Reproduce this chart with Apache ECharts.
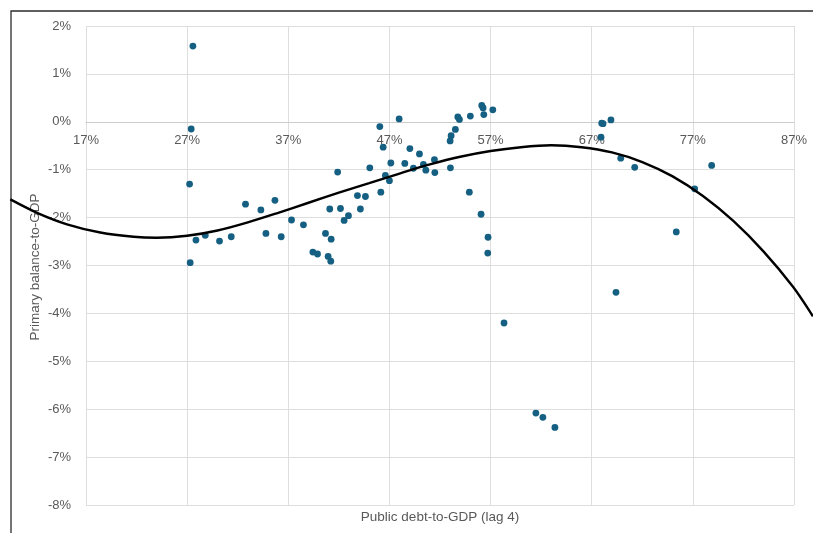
<!DOCTYPE html>
<html>
<head>
<meta charset="utf-8">
<style>
  html, body { margin: 0; padding: 0; background: #ffffff; }
  #chart { width: 813px; height: 533px; }
</style>
<script src="https://cdn.jsdelivr.net/npm/echarts@6/dist/echarts.min.js"></script>
</head>
<body>
<div id="chart"></div>
<script>
// Public debt-to-GDP (lag 4), in percent
const debtRatio = [
  27.57, 27.40, 27.24, 27.30, 27.87, 28.79, 30.20, 31.36, 32.77, 34.29,
  34.79, 35.68, 36.30, 37.32, 38.50, 39.43, 39.89, 40.68, 41.24, 40.94,
  41.20, 41.10, 41.88, 42.16, 42.52, 42.95, 44.13, 43.84, 44.63, 46.15,
  47.00, 45.06, 46.05, 47.96, 46.38, 47.14, 46.60, 48.52, 49.02, 49.97,
  49.37, 50.36, 50.60, 51.45, 51.49, 53.03, 53.00, 53.10, 53.52, 53.76,
  53.92, 55.00, 56.13, 56.26, 56.33, 57.22, 54.90, 56.06, 56.75, 56.72,
  58.33, 61.48, 62.17, 63.36, 67.99, 68.12, 68.90, 67.92, 69.87, 71.25,
  77.18, 78.86, 75.36, 69.40
];

// Primary balance-to-GDP, in percent
const primaryBalance = [
   1.58, -0.15, -1.30, -2.94, -2.47, -2.37, -2.49, -2.40, -1.72, -1.84,
  -2.33, -1.64, -2.40, -2.05, -2.15, -2.72, -2.76, -2.33, -2.45, -2.81,
  -2.91, -1.82, -1.05, -1.81, -2.06, -1.96, -1.82, -1.54, -1.56, -1.47,
  -1.23, -0.96, -0.10,  0.06, -0.53, -0.86, -1.12, -0.87, -0.56, -0.67,
  -0.97, -0.89, -1.01, -0.79, -1.06, -0.96, -0.40, -0.29, -0.16,  0.10,
   0.05,  0.12,  0.34,  0.29,  0.15,  0.25, -1.47, -1.93, -2.41, -2.74,
  -4.20, -6.08, -6.17, -6.38, -0.03, -0.04,  0.04, -0.32, -0.76, -0.95,
  -1.40, -0.91, -2.30, -3.56
];

// Polynomial trend line, sampled along debt ratio (runs past both ends of the axis)
const trendDebt    = [ 9.52, 12.16, 15.12, 18.41, 21.70, 24.00, 27.00, 30.00, 33.00, 36.00,
                      39.00, 42.00, 45.00, 48.00, 51.00, 54.00, 57.00, 60.00, 63.00, 66.00,
                      69.00, 72.00, 75.00, 78.00, 81.00, 84.00, 86.92, 88.87];
const trendBalance = [-1.62, -1.90, -2.14, -2.31, -2.40, -2.42, -2.38, -2.27, -2.10, -1.90,
                      -1.69, -1.48, -1.28, -1.08, -0.89, -0.73, -0.61, -0.53, -0.49, -0.53,
                      -0.64, -0.84, -1.14, -1.55, -2.07, -2.71, -3.45, -4.06];

// Axis ranges and tick steps (percent)
const xTicks = { min: 17, max: 87, step: 10 };
const yTicks = { min: -8, max: 2, step: 1 };

const xTitle = 'Public debt-to-GDP (lag 4)';
const yTitle = 'Primary balance-to-GDP';

const scatterData = debtRatio.map((d, i) => [d, primaryBalance[i]]);
const trendData = trendDebt.map((d, i) => [d, trendBalance[i]]);

// Plot-area layout (px)
const W = 813, H = 533;
const plot = { left: 86, right: 19, top: 26, bottom: 28 };
const plotW = W - plot.left - plot.right;
const plotH = H - plot.top - plot.bottom;
// where the horizontal axis crosses the vertical one (y = 0)
const zeroFromBottom = plotH * (0 - yTicks.min) / (yTicks.max - yTicks.min);

// The trend line is allowed to run out to the chart frame on the left and
// to the window edge on the right, so it gets a wider, hidden x scale.
const frameLeft = 10;
const unitsPerPx = (xTicks.max - xTicks.min) / plotW;
const trendXMin = xTicks.min - (plot.left - frameLeft) * unitsPerPx;
const trendXMax = xTicks.max + plot.right * unitsPerPx;

const chart = echarts.init(document.getElementById('chart'), null, { renderer: 'canvas' });

const labelFont = { color: '#595959', fontSize: 13, fontFamily: 'Liberation Sans, Arial, sans-serif' };
const titleFont = '13.5px "Liberation Sans", Arial, sans-serif';

chart.setOption({
  animation: false,
  backgroundColor: '#ffffff',
  grid: [
    { left: plot.left, right: plot.right, top: plot.top, bottom: plot.bottom, containLabel: false },
    { left: frameLeft, right: 0, top: plot.top, bottom: plot.bottom, containLabel: false }
  ],
  xAxis: [
    {
      type: 'value', gridIndex: 0,
      min: xTicks.min, max: xTicks.max, interval: xTicks.step,
      position: 'bottom',
      offset: -zeroFromBottom,
      axisLine: { show: true, onZero: false, lineStyle: { color: '#cccccc', width: 1 } },
      axisTick: { show: false },
      axisLabel: Object.assign({ margin: 12, formatter: v => v + '%' }, labelFont),
      splitLine: { show: true, lineStyle: { color: '#dedede', width: 1 } }
    },
    {
      type: 'value', gridIndex: 1, show: false,
      min: trendXMin, max: trendXMax
    }
  ],
  yAxis: [
    {
      type: 'value', gridIndex: 0,
      min: yTicks.min, max: yTicks.max, interval: yTicks.step,
      axisLine: { show: false },
      axisTick: { show: false },
      axisLabel: Object.assign({ margin: 15, formatter: v => v + '%' }, labelFont),
      splitLine: { show: true, lineStyle: { color: '#dedede', width: 1 } }
    },
    {
      type: 'value', gridIndex: 1, show: false,
      min: yTicks.min, max: yTicks.max
    }
  ],
  graphic: [
    {
      type: 'rect', z: -1, silent: true,
      shape: { x: 11, y: 11, width: 900, height: 600 },
      style: { fill: null, stroke: '#2b2b2b', lineWidth: 1.3 }
    },
    {
      type: 'text', z: 0, silent: true,
      x: 440, y: 517,
      style: { text: xTitle, align: 'center', verticalAlign: 'middle',
        fill: '#595959', font: titleFont }
    },
    {
      type: 'text', z: 0, silent: true,
      x: 35, y: 267, rotation: Math.PI / 2,
      style: { text: yTitle, align: 'center', verticalAlign: 'middle',
        fill: '#595959', font: titleFont }
    }
  ],
  series: [
    {
      type: 'scatter',
      xAxisIndex: 0, yAxisIndex: 0,
      data: scatterData,
      symbol: 'circle',
      symbolSize: 6.8,
      itemStyle: { color: '#156082', opacity: 1 },
      z: 3
    },
    {
      type: 'line',
      xAxisIndex: 1, yAxisIndex: 1,
      data: trendData,
      smooth: 0.3,
      showSymbol: false,
      clip: false,
      lineStyle: { color: '#000000', width: 2.4 },
      z: 4
    }
  ]
});
</script>
</body>
</html>
